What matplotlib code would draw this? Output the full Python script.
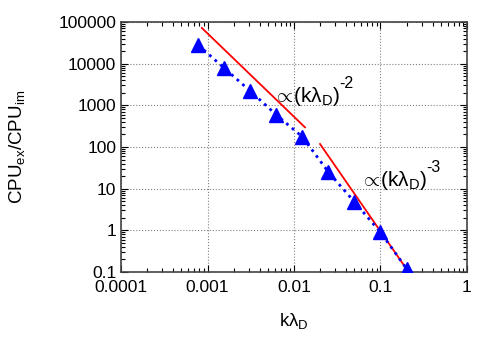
import matplotlib
matplotlib.use("Agg")
import matplotlib.pyplot as plt
import numpy as np
from matplotlib.ticker import LogLocator, FixedLocator, NullFormatter

plt.rcParams['font.family'] = ['Liberation Sans', 'DejaVu Sans']
plt.rcParams['mathtext.fontset'] = 'custom'
plt.rcParams['mathtext.rm'] = 'Liberation Sans'
plt.rcParams['mathtext.it'] = 'Liberation Sans'

k_lambda = [0.00078125, 0.0015625, 0.003125, 0.00625, 0.0125, 0.025, 0.05, 0.1, 0.2]
cpu_ratio = [28000, 7800, 2200, 590, 175, 25, 4.8, 0.9, 0.12]

fit2_x = [0.00086, 0.0134]
fit2_y0 = 72000
fit3_x = [0.02, 0.25]
fit3_y0 = 118

x_ticks = [0.0001, 0.001, 0.01, 0.1, 1]
x_ticklabels = ['0.0001', '0.001', '0.01', '0.1', '1']
y_ticks = [0.1, 1, 10, 100, 1000, 10000, 100000]
y_ticklabels = ['0.1', '1', '10', '100', '1000', '10000', '100000']

fig = plt.figure(figsize=(5, 3.5), dpi=100)
ax = fig.add_axes([121/500, 1-272/350, (467-121)/500, (272-22)/350])

ax.plot(k_lambda, cpu_ratio, color='blue', linestyle=':', linewidth=2,
        marker='^', markersize=10, zorder=3)

fx2 = np.array(fit2_x)
ax.plot(fx2, fit2_y0 * (fx2 / fx2[0])**-2, color='red', linewidth=1.3, zorder=2)
fx3 = np.array(fit3_x)
ax.plot(fx3, fit3_y0 * (fx3 / fx3[0])**-3, color='red', linewidth=1.3, zorder=2)

ax.set_xscale('log')
ax.set_yscale('log')
ax.set_xlim(0.0001, 1)
ax.set_ylim(0.1, 100000)

ax.xaxis.set_major_locator(FixedLocator(x_ticks))
ax.set_xticklabels(x_ticklabels)
ax.yaxis.set_major_locator(FixedLocator(y_ticks))
ax.set_yticklabels(y_ticklabels)
ax.xaxis.set_minor_locator(LogLocator(base=10, subs=np.arange(2, 10)))
ax.yaxis.set_minor_locator(LogLocator(base=10, subs=np.arange(2, 10)))
ax.xaxis.set_minor_formatter(NullFormatter())
ax.yaxis.set_minor_formatter(NullFormatter())

ax.tick_params(which='both', direction='in', top=True, right=True, labelsize=12.5, colors='black')
ax.tick_params(which='major', length=5, width=0.8)
ax.tick_params(which='minor', length=3, width=0.8)
ax.tick_params(axis='x', pad=6)

ax.grid(True, which='major', linestyle=':', color='gray', linewidth=0.8)
for s in ax.spines.values():
    s.set_color('#444444')
    s.set_linewidth(1.2)

ax.set_xlabel(r'k$\lambda_\mathrm{D}$', fontsize=13.5, va='top')
ax.set_ylabel(r'CPU$_\mathrm{ex}$/CPU$_\mathrm{im}$', fontsize=13.5)
ax.xaxis.set_label_coords(0.5, -0.155)
ax.yaxis.set_label_coords(-0.272, 0.5)

lab = r'$\propto\!$(k$\lambda_\mathrm{D}$)'
t1 = ax.text(0.0057, 1200, lab, fontsize=15, va='baseline', ha='left')
ax.annotate('-2', xy=(1.0, 0.72), xycoords=t1, fontsize=11.5, va='bottom', ha='left')
t2 = ax.text(0.0578, 11.6, lab, fontsize=15, va='baseline', ha='left')
ax.annotate('-3', xy=(1.0, 0.72), xycoords=t2, fontsize=11.5, va='bottom', ha='left')

fig.savefig('out.png', dpi=100)
